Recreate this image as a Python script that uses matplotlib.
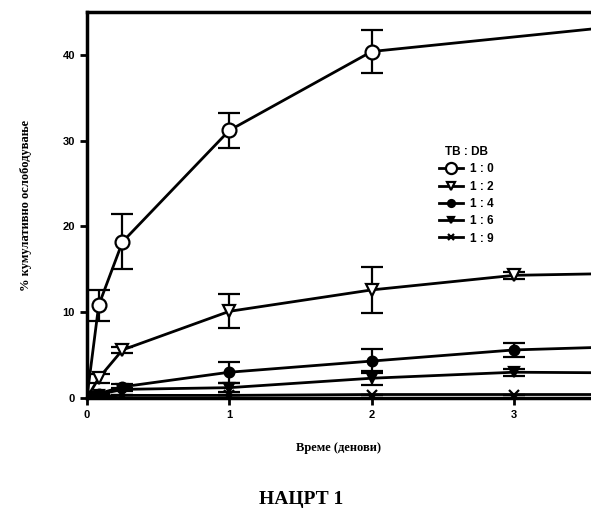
import matplotlib
matplotlib.use('Agg')
import matplotlib.pyplot as plt
from matplotlib.lines import Line2D

# time points (days)
days = [0, 0.083, 0.25, 1, 2, 3, 4]

# cumulative release (%) for each TB : DB ratio
release_1_0 = [0, 10.8, 18.2, 31.2, 40.4, None, 43.8]
err_1_0 = [0, 1.8, 3.2, 2.0, 2.5, 0, 0]
release_1_2 = [0, 2.3, 5.6, 10.1, 12.6, 14.3, 14.6]
err_1_2 = [0, 0.5, 0.4, 2.0, 2.7, 0.4, 0]
release_1_4 = [0, 0.5, 1.3, 3.0, 4.3, 5.6, 6.1]
err_1_4 = [0, 0.2, 0.3, 1.2, 1.4, 0.8, 0]
release_1_6 = [0, 0.4, 1.0, 1.2, 2.3, 3.0, 2.9]
err_1_6 = [0, 0.1, 0.2, 0.5, 0.8, 0.4, 0]
release_1_9 = [0, 0.2, 0.3, 0.3, 0.4, 0.4, 0.4]
err_1_9 = [0, 0, 0, 0, 0, 0, 0]

labels = ['1 : 0', '1 : 2', '1 : 4', '1 : 6', '1 : 9']
series = [release_1_0, release_1_2, release_1_4, release_1_6, release_1_9]
errors = [err_1_0, err_1_2, err_1_4, err_1_6, err_1_9]
markers = ['o', 'v', 'o', 'v', 'x']
fills = ['white', 'white', 'black', 'black', 'black']
sizes = [10, 8, 7, 7, 7]


def main():
    fig = plt.figure(figsize=(5.91, 5.25), dpi=100)
    ax = fig.add_axes([0.147, 0.242, 0.853, 0.735])

    handles = []
    for y, e, m, fc, ms, lab in zip(series, errors, markers, fills, sizes, labels):
        x = [d for d, v in zip(days, y) if v is not None]
        yy = [v for v in y if v is not None]
        ee = [er for er, v in zip(e, y) if v is not None]
        ax.errorbar(x, yy, yerr=ee, color='black', lw=2.0, marker=m,
                    markersize=ms, markerfacecolor=fc,
                    markeredgecolor='black', markeredgewidth=1.6,
                    capsize=8, capthick=1.6, elinewidth=1.6)
        handles.append(Line2D([], [], color='black', lw=2.0, marker=m,
                              markersize=ms - 2, markerfacecolor=fc,
                              markeredgecolor='black', markeredgewidth=1.6,
                              label=lab))

    ax.set_xlim(0, 3.54)
    ax.set_ylim(0, 45)
    ax.set_xticks([0, 1, 2, 3])
    ax.set_yticks([0, 10, 20, 30, 40])
    for s in ['left', 'top', 'bottom']:
        ax.spines[s].set_linewidth(2.5)
    ax.spines['right'].set_visible(False)
    ax.tick_params(width=2, length=5, labelsize=8)
    for t in ax.get_xticklabels() + ax.get_yticklabels():
        t.set_fontweight('bold')
        t.set_family('Liberation Sans')

    ax.set_xlabel('Време (денови)', fontsize=9, fontweight='bold',
                  family='Liberation Serif', labelpad=16)
    ax.set_ylabel('% кумулативно ослободување', fontsize=9, fontweight='bold',
                  family='Liberation Serif', labelpad=22)

    leg = ax.legend(handles=handles, title='TB : DB', loc='upper left',
                    bbox_to_anchor=(0.69, 0.665), frameon=False,
                    prop={'family': 'Liberation Sans', 'weight': 'bold', 'size': 8.5},
                    handlelength=2.0, labelspacing=0.45, borderaxespad=0,
                    handletextpad=0.6)
    leg.get_title().set_fontweight('bold')
    leg.get_title().set_fontsize(8.5)
    leg.get_title().set_family('Liberation Sans')

    fig.text(0.51, 0.032, 'НАЦРТ 1', ha='center', va='bottom', fontsize=14,
             fontweight='bold', family='Liberation Serif')

    fig.savefig('out.png', dpi=100)


if __name__ == '__main__':
    main()
